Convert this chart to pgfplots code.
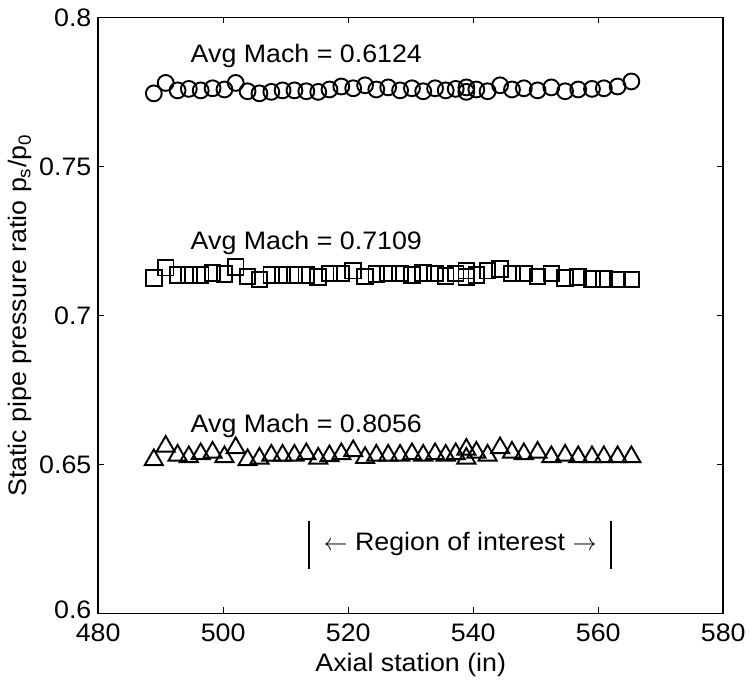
\documentclass[border=0pt]{standalone}
\usepackage{pgfplots}
\pgfplotsset{compat=1.18}
\usepackage{fontspec}
\setmainfont{Liberation Sans}[FakeStretch=1.06]
\newcommand{\figfont}{\fontsize{12.6}{15}\selectfont}
\begin{document}
\figfont
\begin{tikzpicture}[font=\figfont]
\begin{axis}[
  scale only axis,
  width=311.5pt, height=297pt,
  xmin=480, xmax=580, ymin=0.6, ymax=0.8,
  xtick={480,500,...,580},
  ytick={0.6,0.65,0.7,0.75,0.8},
  yticklabels={\raisebox{3.5pt}{0.6},0.65,0.7,0.75,0.8},
  /pgf/number format/assume math mode=true,
  xticklabel style={/pgf/number format/1000 sep={}, yshift=-1pt},
  tick align=inside,
  major tick length=3pt,
  tick style={black, line width=0.6pt},
  axis line style={black, line width=0.8pt},
  xlabel={Axial station (in)},
  ylabel={Static pipe pressure ratio p\textsubscript{s}/p\textsubscript{0}},
  label style={font=\figfont},
  tick label style={font=\figfont},
  yticklabel style={xshift=1pt},
  xlabel style={yshift=3pt},
  ylabel style={yshift=-5pt},
  every axis plot/.append style={black, line width=0.95pt},
]
% circles, Avg Mach 0.6124
\addplot[only marks, mark=o, mark size=3.95pt] coordinates {
(488.9,0.7745)(490.8,0.7780)(492.7,0.7755)(494.5,0.7760)(496.4,0.7755)(498.3,0.7762)
(500.2,0.7758)(502.0,0.7780)(503.9,0.7752)(505.8,0.7745)(507.7,0.7750)(509.5,0.7755)
(511.4,0.7755)(513.3,0.7752)(515.2,0.7750)(517.0,0.7758)(518.9,0.7768)(520.8,0.7762)
(522.7,0.7772)(524.5,0.7758)(526.4,0.7765)(528.3,0.7755)(530.2,0.7762)(532.0,0.7752)
(533.9,0.7762)(535.6,0.7755)(537.2,0.7760)(538.9,0.7750)(538.9,0.7765)(540.5,0.7758)
(542.3,0.7752)(544.3,0.7772)(546.2,0.7758)(548.1,0.7762)(550.3,0.7755)(552.5,0.7765)
(554.7,0.7752)(556.8,0.7758)(559.0,0.7760)(560.9,0.7762)(563.1,0.7768)(565.3,0.7785)
};
% squares, Avg Mach 0.7109
\addplot[only marks, mark=square, mark size=3.9pt] coordinates {
(488.9,0.7125)(490.8,0.7160)(492.7,0.7135)(494.5,0.7135)(496.4,0.7135)(498.3,0.7142)
(500.2,0.7138)(502.0,0.7162)(503.9,0.7130)(505.8,0.7120)(507.7,0.7135)(509.5,0.7135)
(511.4,0.7135)(513.3,0.7135)(515.2,0.7128)(517.0,0.7140)(518.9,0.7140)(520.8,0.7150)
(522.7,0.7130)(524.5,0.7138)(526.4,0.7140)(528.3,0.7140)(530.2,0.7135)(532.0,0.7142)
(533.9,0.7140)(535.6,0.7132)(537.2,0.7140)(538.9,0.7128)(538.9,0.7150)(540.5,0.7135)
(542.3,0.7150)(544.3,0.7155)(546.2,0.7140)(548.1,0.7140)(550.3,0.7130)(552.5,0.7140)
(554.7,0.7125)(556.8,0.7128)(559.0,0.7122)(560.9,0.7122)(563.1,0.7120)(565.3,0.7120)
};
% triangles, Avg Mach 0.8056
\addplot[only marks, mark=triangle, mark size=5.2pt] coordinates {
(488.9,0.6515)(490.8,0.6560)(492.7,0.6530)(494.5,0.6525)(496.4,0.6535)(498.3,0.6540)
(500.2,0.6525)(502.0,0.6555)(503.9,0.6515)(505.8,0.6520)(507.7,0.6530)(509.5,0.6530)
(511.4,0.6530)(513.3,0.6535)(515.2,0.6520)(517.0,0.6528)(518.9,0.6535)(520.8,0.6545)
(522.7,0.6522)(524.5,0.6530)(526.4,0.6530)(528.3,0.6530)(530.2,0.6535)(532.0,0.6530)
(533.9,0.6535)(535.6,0.6530)(537.2,0.6535)(538.9,0.6520)(538.9,0.6550)(540.5,0.6540)
(542.3,0.6530)(544.3,0.6555)(546.2,0.6540)(548.1,0.6535)(550.3,0.6540)(552.5,0.6525)
(554.7,0.6530)(556.8,0.6525)(559.0,0.6525)(560.9,0.6525)(563.1,0.6525)(565.3,0.6525)
};
% region of interest bars
\addplot[black, line width=0.8pt] coordinates {(513.7,0.6150)(513.7,0.6310)};
\addplot[black, line width=0.8pt] coordinates {(562.0,0.6150)(562.0,0.6310)};
\node at (axis cs:513.3,0.7870) {Avg Mach = 0.6124};
\node at (axis cs:513.3,0.7243) {Avg Mach = 0.7109};
\node at (axis cs:513.3,0.6628) {Avg Mach = 0.8056};
\node at (axis cs:537.9,0.6232) {$\leftarrow$ Region of interest $\rightarrow$};
\end{axis}
\end{tikzpicture}
\end{document}
